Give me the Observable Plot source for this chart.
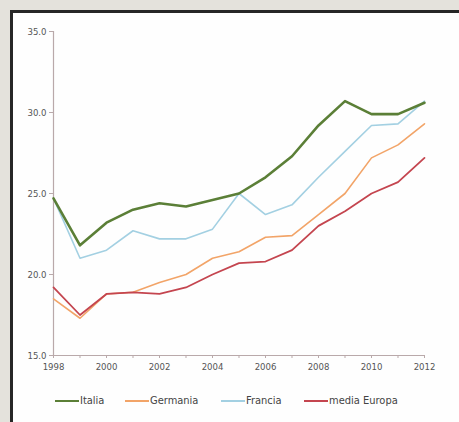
<!DOCTYPE html>
<html><head><meta charset="utf-8">
<script src="https://cdn.jsdelivr.net/npm/d3@7"></script>
<script src="https://cdn.jsdelivr.net/npm/@observablehq/plot@0.6"></script>
<style>
body{margin:0;background:#e4e2dc;}
#wrap{position:relative;width:459px;height:422px;overflow:hidden;background:#e4e2dc;}
#panel{position:absolute;left:10px;top:10px;width:460px;height:420px;background:#fefefe;border-left:3px solid #262626;border-top:3px solid #262626;}
#chart{position:absolute;left:0;top:0;}
#legend{position:absolute;left:0;top:394px;width:459px;height:16px;font-family:"DejaVu Sans Condensed","DejaVu Sans",sans-serif;font-size:11px;color:#444;}
#legend span{position:absolute;top:0;display:flex;align-items:center;gap:1px;white-space:nowrap;}
#legend i{display:inline-block;width:24px;height:2px;}
</style></head>
<body><div id="wrap"><div id="panel"></div><div id="chart"></div><div id="legend"></div></div>
<script>
const years = [1998,1999,2000,2001,2002,2003,2004,2005,2006,2007,2008,2009,2010,2011,2012];
const italia   = [24.7,21.8,23.2,24.0,24.4,24.2,24.6,25.0,26.0,27.3,29.2,30.7,29.9,29.9,30.6];
const germania = [18.5,17.3,18.8,18.9,19.5,20.0,21.0,21.4,22.3,22.4,23.7,25.0,27.2,28.0,29.3];
const francia  = [24.7,21.0,21.5,22.7,22.2,22.2,22.8,25.0,23.7,24.3,26.0,27.6,29.2,29.3,30.7];
const europa   = [19.2,17.5,18.8,18.9,18.8,19.2,20.0,20.7,20.8,21.5,23.0,23.9,25.0,25.7,27.2];
const seriesNames = ["Italia","Germania","Francia","media Europa"];
const seriesColors = ["#5b7f37","#f2a468","#a3d0e2","#c4454f"];
const seriesWidths = [2.6,1.6,1.6,1.8];
const yTicks = [15,20,25,30,35];
const xLabelTicks = [1998,2000,2002,2004,2006,2008,2010,2012];
const legendLeft = [55,125,221,304];

const all = [italia,germania,francia,europa];
const rows = [];
all.forEach((vals,si)=>vals.forEach((v,i)=>rows.push({year:years[i],value:v,series:seriesNames[si]})));

const font = `"DejaVu Sans Condensed","DejaVu Sans",sans-serif`;
const marks = [];
[2,1,3,0].forEach(si=>{
  marks.push(Plot.line(rows.filter(r=>r.series===seriesNames[si]),{x:"year",y:"value",stroke:seriesColors[si],strokeWidth:seriesWidths[si],strokeLinejoin:"round"}));
});
const plot = Plot.plot({
  width:459,height:380,
  marginLeft:53,marginRight:35,marginTop:31,marginBottom:25,
  style:{fontFamily:font,fontSize:"9.5px",color:"#555",background:"transparent"},
  x:{domain:[1998,2012]},
  y:{domain:[15,35]},
  marks:[
    Plot.ruleX([1998],{stroke:"#b9a9aa",strokeWidth:1.2}),
    Plot.ruleY([15],{stroke:"#b9a9aa",strokeWidth:1.2}),
    Plot.axisY({ticks:yTicks,tickFormat:d3.format(".1f"),tickSize:4,tickPadding:3,stroke:"#b9a9aa",label:null}),
    Plot.axisX({ticks:years,tickFormat:()=>"",tickSize:3,stroke:"#b9a9aa",label:null}),
    Plot.axisX({ticks:xLabelTicks,tickFormat:d3.format("d"),tickSize:0,tickPadding:8,label:null}),
    ...marks
  ]
});
document.getElementById("chart").appendChild(plot);
const lg = document.getElementById("legend");
seriesNames.forEach((n,i)=>{
  const s=document.createElement("span");
  s.style.left = legendLeft[i]+"px";
  s.innerHTML=`<i style="background:${seriesColors[i]}"></i>${n}`;
  lg.appendChild(s);
});
</script></body></html>
